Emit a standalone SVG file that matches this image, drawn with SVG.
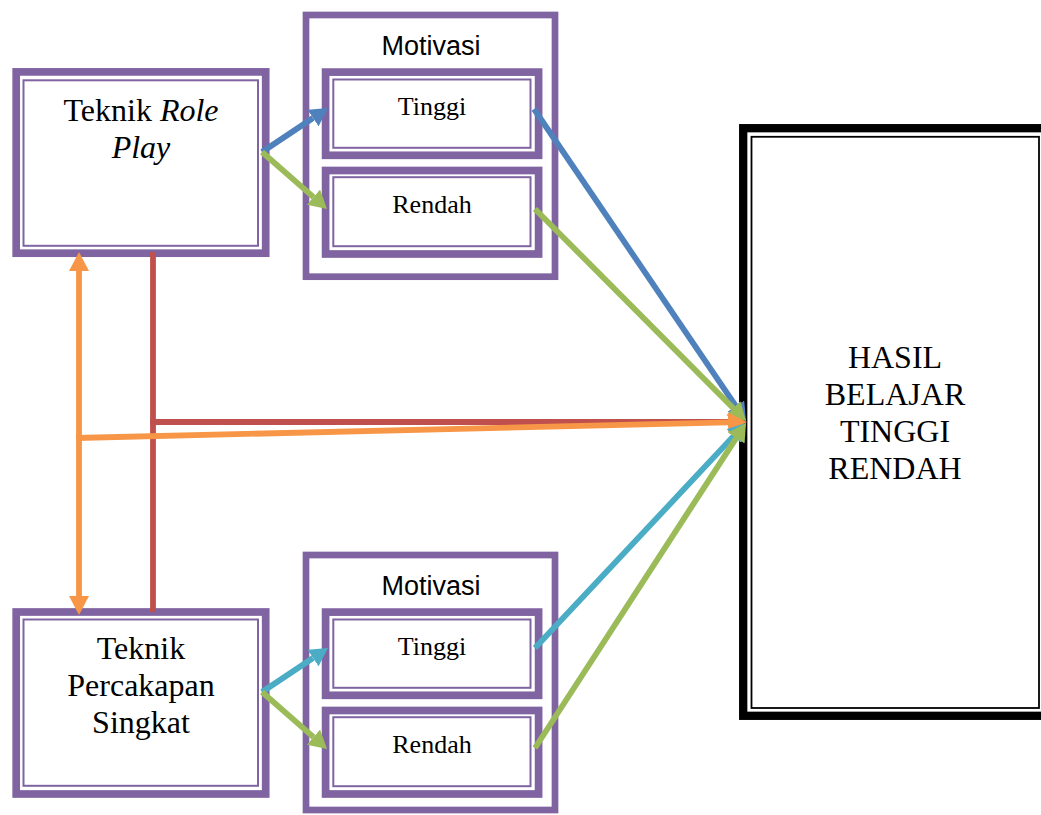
<svg xmlns="http://www.w3.org/2000/svg" width="1041" height="815" viewBox="0 0 1041 815">
<style>
.thick{fill:none;stroke:#8064A2;stroke-width:7.7}
.thin{fill:none;stroke:#8064A2;stroke-width:2}
.mot{fill:none;stroke:#8064A2;stroke-width:6.7}
.serif{font-family:"Liberation Serif","Times New Roman",serif;fill:#000;text-anchor:middle}
.sans{font-family:"Liberation Sans",Arial,sans-serif;fill:#000;text-anchor:middle}
.big{font-size:32px}
.mid{font-size:26px}
.ln{fill:none;stroke-width:5.8;stroke-linecap:butt}
</style>
<defs>
<marker id="ahBlue" markerUnits="userSpaceOnUse" markerWidth="20" markerHeight="20" refX="0" refY="10" orient="auto-start-reverse"><path d="M0,0 L18,10 L0,20 z" fill="#4F81BD"/></marker>
<marker id="ahGreen" markerUnits="userSpaceOnUse" markerWidth="20" markerHeight="20" refX="0" refY="10" orient="auto-start-reverse"><path d="M0,0 L18,10 L0,20 z" fill="#9BBB59"/></marker>
<marker id="ahCyan" markerUnits="userSpaceOnUse" markerWidth="20" markerHeight="20" refX="0" refY="10" orient="auto-start-reverse"><path d="M0,0 L18,10 L0,20 z" fill="#4BACC6"/></marker>
<marker id="ahOrange" markerUnits="userSpaceOnUse" markerWidth="20" markerHeight="20" refX="0" refY="10" orient="auto-start-reverse"><path d="M0,0 L19,10 L0,20 z" fill="#F79646"/></marker>
</defs>
<rect width="1041" height="815" fill="#fff"/>

<g id="role-play">
<rect class="thick" x="16.2" y="71.9" width="249.5" height="181.3"/>
<rect class="thin" x="23.5" y="80.3" width="234.5" height="165.5"/>
<text class="serif big" x="141" y="121">Teknik <tspan font-style="italic">Role</tspan></text>
<text class="serif big" x="141" y="158" font-style="italic">Play</text>
</g>

<g id="percakapan">
<rect class="thick" x="16.2" y="612" width="249.5" height="182"/>
<rect class="thin" x="23.5" y="619.5" width="234.5" height="166.3"/>
<text class="serif big" x="141" y="659">Teknik</text>
<text class="serif big" x="141" y="696">Percakapan</text>
<text class="serif big" x="141" y="733">Singkat</text>
</g>

<g id="motivasi-1">
<rect class="mot" x="306" y="15" width="249" height="261.7"/>
<text class="sans" font-size="27" x="431" y="55">Motivasi</text>
</g>
<g id="tinggi-1">
<rect class="thick" x="325.6" y="72.1" width="213" height="83.2"/>
<rect class="thin" x="333.3" y="79.5" width="197.2" height="68.3"/>
<text class="serif mid" x="432" y="115">Tinggi</text>
</g>
<g id="rendah-1">
<rect class="thick" x="325.6" y="170.5" width="213" height="83.5"/>
<rect class="thin" x="333.3" y="177.2" width="197.2" height="69"/>
<text class="serif mid" x="432" y="213">Rendah</text>
</g>

<g id="motivasi-2">
<rect class="mot" x="306" y="555" width="249" height="255"/>
<text class="sans" font-size="27" x="431" y="595">Motivasi</text>
</g>
<g id="tinggi-2">
<rect class="thick" x="325.6" y="612.1" width="213" height="83.2"/>
<rect class="thin" x="333.3" y="619.5" width="197.2" height="68.3"/>
<text class="serif mid" x="432" y="655">Tinggi</text>
</g>
<g id="rendah-2">
<rect class="thick" x="325.6" y="710.5" width="213" height="83.5"/>
<rect class="thin" x="333.3" y="717.2" width="197.2" height="69"/>
<text class="serif mid" x="432" y="753">Rendah</text>
</g>

<g id="hasil">
<rect x="743.2" y="128.2" width="305" height="587.6" fill="#fff" stroke="#000" stroke-width="8.3"/>
<rect x="751.5" y="136.8" width="287.5" height="571.2" fill="none" stroke="#000" stroke-width="1.8"/>
<text class="serif big" x="895" y="368">HASIL</text>
<text class="serif big" x="895" y="405">BELAJAR</text>
<text class="serif big" x="895" y="442">TINGGI</text>
<text class="serif big" x="895" y="479">RENDAH</text>
</g>

<g id="connectors">
<line class="ln" stroke="#4F81BD" x1="262" y1="152" x2="313" y2="118" marker-end="url(#ahBlue)"/>
<line class="ln" stroke="#9BBB59" x1="262" y1="152" x2="313.5" y2="197.1" marker-end="url(#ahGreen)"/>
<line class="ln" stroke="#4BACC6" x1="262" y1="692" x2="313" y2="658" marker-end="url(#ahCyan)"/>
<line class="ln" stroke="#9BBB59" x1="262" y1="692" x2="313.5" y2="737.1" marker-end="url(#ahGreen)"/>
<line class="ln" stroke="#4F81BD" x1="534" y1="109" x2="735.9" y2="406.1" marker-end="url(#ahBlue)"/>
<line class="ln" stroke="#9BBB59" x1="535" y1="209" x2="733.3" y2="408.2" marker-end="url(#ahGreen)"/>
<line class="ln" stroke="#C0504D" stroke-width="6" x1="153" y1="252" x2="153" y2="612"/>
<line class="ln" stroke="#C0504D" stroke-width="6" x1="150" y1="422" x2="735" y2="422"/>
<line class="ln" stroke="#F79646" stroke-width="6" x1="79" y1="271" x2="79" y2="596" marker-start="url(#ahOrange)" marker-end="url(#ahOrange)"/>
<line class="ln" stroke="#F79646" stroke-width="6" x1="76" y1="438" x2="728" y2="422.4" marker-end="url(#ahOrange)"/>
<line class="ln" stroke="#4BACC6" x1="535" y1="648" x2="733.7" y2="436.1" marker-end="url(#ahCyan)"/>
<line class="ln" stroke="#9BBB59" x1="535" y1="748" x2="736.2" y2="438.1" marker-end="url(#ahGreen)"/>
</g>
</svg>
